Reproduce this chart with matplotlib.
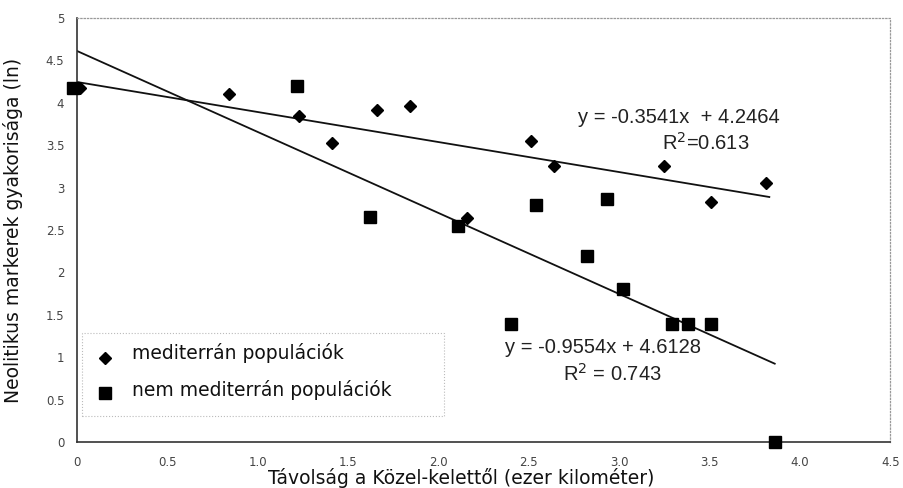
import matplotlib
matplotlib.use("Agg")
import matplotlib.pyplot as plt
from matplotlib.patches import Rectangle
import numpy as np

# mediterrán populációk (rombusz)
med_x = [0.02, 0.84, 1.23, 1.41, 1.66, 1.84, 2.16, 2.51, 2.64, 3.25, 3.51, 3.81]
med_y = [4.17, 4.10, 3.84, 3.53, 3.92, 3.96, 2.64, 3.55, 3.26, 3.26, 2.83, 3.05]
# nem mediterrán populációk (négyzet)
non_x = [-0.02, 1.22, 1.62, 2.11, 2.54, 2.93, 2.82, 3.02, 2.40, 3.29, 3.38, 3.51, 3.86]
non_y = [4.17, 4.20, 2.65, 2.55, 2.79, 2.87, 2.20, 1.80, 1.39, 1.39, 1.39, 1.39, 0.0]
# trendvonalak
med_fit = (-0.3541, 4.2464, 0.613, 3.83)   # meredekség, metszet, R2, x vége
non_fit = (-0.9554, 4.6128, 0.743, 3.86)

xticks = [0, 0.5, 1.0, 1.5, 2.0, 2.5, 3.0, 3.5, 4.0, 4.5]
xtick_labels = ["0", "0.5", "1.0", "1.5", "2.0", "2.5", "3.0", "3.5", "4.0", "4.5"]
yticks = [0, 0.5, 1, 1.5, 2, 2.5, 3, 3.5, 4, 4.5, 5]
ytick_labels = ["0", "0.5", "1", "1.5", "2", "2.5", "3", "3.5", "4", "4.5", "5"]

fig = plt.figure(figsize=(9.04, 4.88), dpi=100)
ax = fig.add_axes([0.085, 0.094, 0.900, 0.869])
ax.set_xlim(0, 4.5); ax.set_ylim(0, 5)

for a, b, r2, xe in (med_fit, non_fit):
    xx = np.array([0.0, xe])
    ax.plot(xx, a * xx + b, color="#111111", lw=1.3, zorder=2)

ax.plot(med_x, med_y, ls="none", marker="D", ms=6.5, color="black", zorder=3, clip_on=False)
ax.plot(non_x, non_y, ls="none", marker="s", ms=8.5, color="black", zorder=3, clip_on=False)

eqfont = dict(family="Liberation Sans", fontsize=14.5, color="#222222")
ax.text(2.77, 3.83, "y = -0.3541x  + 4.2464", ha="left", va="center", **eqfont)
ax.text(3.48, 3.53, "R$^2$=0.613", ha="center", va="center", **eqfont)
ax.text(2.37, 1.11, "y = -0.9554x + 4.6128", ha="left", va="center", **eqfont)
ax.text(2.96, 0.80, "R$^2$ = 0.743", ha="center", va="center", **eqfont)

# jelmagyarázat
ax.add_patch(Rectangle((0.006, 0.061), 0.445, 0.196, transform=ax.transAxes, fill=False,
                       ls=":", lw=0.8, edgecolor="#bbbbbb", zorder=1))
ax.plot([0.034], [0.198], transform=ax.transAxes, marker="D", ms=6.5, color="black", ls="none")
ax.plot([0.034], [0.117], transform=ax.transAxes, marker="s", ms=8.5, color="black", ls="none")
ax.text(0.068, 0.210, "mediterrán populációk", transform=ax.transAxes, fontsize=13.5,
        ha="left", va="center", color="#111111")
ax.text(0.068, 0.122, "nem mediterrán populációk", transform=ax.transAxes, fontsize=13.5,
        ha="left", va="center", color="#111111")

ax.set_xticks(xticks); ax.set_xticklabels(xtick_labels)
ax.set_yticks(yticks); ax.set_yticklabels(ytick_labels)
ax.tick_params(axis="x", length=0, pad=10, labelsize=8.5, labelcolor="#444444")
ax.tick_params(axis="y", length=0, pad=9, labelsize=8.5, labelcolor="#444444")

ax.set_xlabel("Távolság a Közel-kelettől (ezer kilométer)", fontsize=13.5, color="#111111",
              va="bottom")
ax.xaxis.set_label_coords(0.472, -0.108)
ax.set_ylabel("Neolitikus markerek gyakorisága (ln)", fontsize=13.5, color="#111111")
ax.yaxis.set_label_coords(-0.066, 0.5)

for s in ["left", "bottom"]:
    ax.spines[s].set_color("#333333"); ax.spines[s].set_linewidth(1.2)
for s in ["top", "right"]:
    ax.spines[s].set_color("#999999"); ax.spines[s].set_linestyle(":"); ax.spines[s].set_linewidth(0.9)

fig.savefig("out.png", dpi=100)
